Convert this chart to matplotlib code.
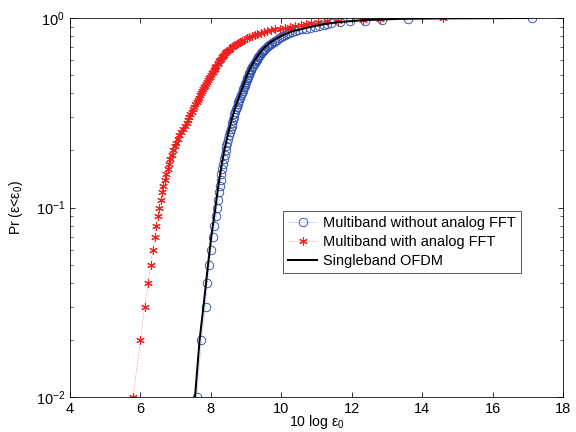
import numpy as np
import matplotlib
matplotlib.use("Agg")
import matplotlib.pyplot as plt
from matplotlib.ticker import LogLocator, NullFormatter

plt.rcParams['font.family'] = ['Liberation Sans', 'DejaVu Sans']
plt.rcParams['mathtext.fontset'] = 'custom'
plt.rcParams['mathtext.rm'] = 'Liberation Sans'
plt.rcParams['mathtext.it'] = 'Liberation Sans:italic'
plt.rcParams['mathtext.default'] = 'regular'

# empirical CDF levels (markers at 0.01 steps)
prob = np.arange(1, 101) / 100.0

x_multi_no_fft = [
    7.60, 7.73, 7.85, 7.90, 7.96, 8.00, 8.05, 8.10, 8.15, 8.17,
    8.20, 8.22, 8.25, 8.28, 8.30, 8.33, 8.35, 8.38, 8.40, 8.42,
    8.44, 8.46, 8.49, 8.51, 8.54, 8.56, 8.59, 8.61, 8.63, 8.65,
    8.67, 8.69, 8.71, 8.73, 8.76, 8.78, 8.80, 8.83, 8.85, 8.88,
    8.90, 8.92, 8.94, 8.96, 8.98, 9.00, 9.02, 9.04, 9.05, 9.07,
    9.09, 9.11, 9.13, 9.15, 9.18, 9.20, 9.22, 9.25, 9.27, 9.30,
    9.32, 9.35, 9.38, 9.40, 9.43, 9.46, 9.49, 9.52, 9.55, 9.59,
    9.62, 9.66, 9.70, 9.74, 9.78, 9.83, 9.88, 9.93, 9.98, 10.04,
    10.10, 10.16, 10.23, 10.30, 10.38, 10.47, 10.58, 10.70, 10.82, 10.95,
    11.08, 11.20, 11.30, 11.42, 11.67, 11.95, 12.38, 12.85, 13.61, 17.12]

x_multi_fft = [
    5.79, 6.00, 6.12, 6.22, 6.29, 6.36, 6.41, 6.45, 6.51, 6.54,
    6.58, 6.61, 6.65, 6.69, 6.73, 6.77, 6.81, 6.85, 6.89, 6.93,
    6.97, 7.01, 7.06, 7.10, 7.15, 7.21, 7.27, 7.31, 7.35, 7.39,
    7.42, 7.46, 7.49, 7.53, 7.56, 7.60, 7.63, 7.66, 7.69, 7.72,
    7.75, 7.78, 7.81, 7.84, 7.87, 7.90, 7.92, 7.95, 7.98, 8.01,
    8.03, 8.06, 8.08, 8.11, 8.13, 8.16, 8.19, 8.21, 8.24, 8.26,
    8.29, 8.32, 8.35, 8.38, 8.41, 8.44, 8.47, 8.51, 8.55, 8.59,
    8.63, 8.68, 8.73, 8.78, 8.83, 8.89, 8.95, 9.02, 9.09, 9.16,
    9.24, 9.32, 9.41, 9.50, 9.60, 9.71, 9.83, 9.96, 10.10, 10.25,
    10.40, 10.55, 10.70, 10.85, 11.05, 11.30, 11.60, 12.33, 12.80, 14.60]

prob_single = [0.01, 0.02, 0.03, 0.05, 0.07, 0.10, 0.13, 0.17, 0.20, 0.25,
               0.30, 0.35, 0.40, 0.45, 0.50, 0.55, 0.60, 0.65, 0.70, 0.75,
               0.80, 0.85, 0.90, 0.93, 0.95, 0.97, 0.98, 0.99, 0.995, 1.0]
x_single = [7.55, 7.68, 7.79, 7.92, 8.01, 8.13, 8.21, 8.31, 8.38, 8.50,
            8.61, 8.72, 8.84, 8.94, 9.03, 9.13, 9.25, 9.38, 9.53, 9.72,
            9.97, 10.30, 10.85, 11.25, 11.60, 12.20, 12.70, 13.40, 14.50, 17.00]

labels = ['Multiband without analog FFT', 'Multiband with analog FFT', 'Singleband OFDM']

fig = plt.figure(figsize=(8, 6), dpi=72)
ax = fig.add_axes([70/576, 35/432, 493/576, 379/432])

ax.semilogy(x_multi_no_fft, prob, linestyle=':', color='#4a6fd8', linewidth=0.6,
            marker='o', markersize=8.5, markerfacecolor='none', markeredgecolor='#3050b0',
            markeredgewidth=0.9, label=labels[0])
ax.semilogy(x_multi_fft, prob, linestyle=':', color='#ff4040', linewidth=0.6,
            marker=(6, 2, 0), markersize=8.5, markerfacecolor='#ee2020', markeredgecolor='#ee2020',
            markeredgewidth=1.1, label=labels[1])
ax.semilogy(x_single, prob_single, linestyle='-', color='black', linewidth=2,
            label=labels[2])

ax.set_xlim(4, 18)
ax.set_ylim(1e-2, 1)
ax.set_xticks([4, 6, 8, 10, 12, 14, 16, 18])
ax.yaxis.set_major_locator(LogLocator(base=10, numticks=10))
ax.yaxis.set_minor_locator(LogLocator(base=10, subs=np.arange(2, 10), numticks=10))
ax.yaxis.set_minor_formatter(NullFormatter())
ax.tick_params(which='both', direction='in', top=True, right=True, labelsize=14.5)
ax.tick_params(which='major', length=5, width=0.8, pad=5)
ax.tick_params(which='minor', length=3, width=0.6)
for s in ax.spines.values():
    s.set_linewidth(0.8)

ax.set_xlabel('10 log ε$_0$', fontsize=14, labelpad=-3)
ax.set_ylabel('Pr (ε<ε$_0$)', fontsize=14, labelpad=11)

leg = ax.legend(loc='lower left', bbox_to_anchor=((283-70)/493, (397-273)/379),
                fontsize=14.5, frameon=True, fancybox=False, edgecolor='black',
                borderpad=0.35, labelspacing=0.35, handlelength=2.0, handletextpad=0.4,
                borderaxespad=0)
leg.get_frame().set_linewidth(0.8)

fig.savefig('out.png', dpi=72)
